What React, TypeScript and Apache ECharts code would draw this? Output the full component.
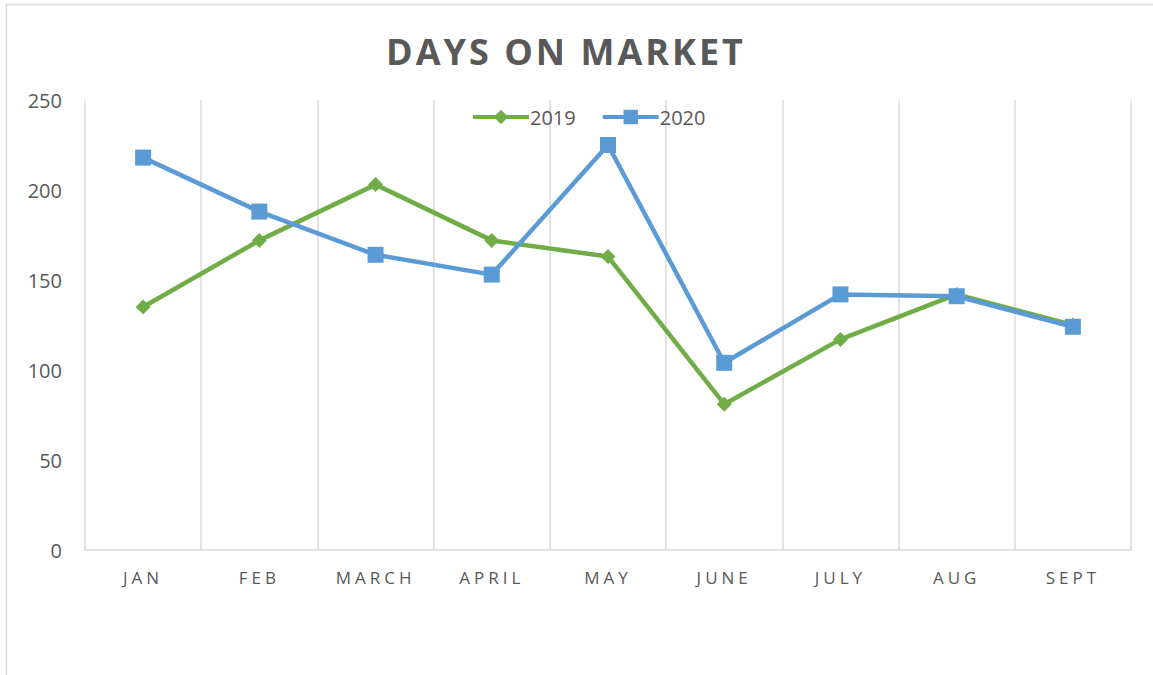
import React, { useEffect, useRef } from "react";
import * as echarts from "echarts";

const categories = ["JAN", "FEB", "MARCH", "APRIL", "MAY", "JUNE", "JULY", "AUG", "SEPT"];
const values2019 = [135, 172, 203, 172, 163, 81, 117, 142, 125];
const values2020 = [218, 188, 164, 153, 225, 104, 142, 141, 124];
const yTicks = { min: 0, max: 250, interval: 50 };
const titleText = "DAYS ON MARKET";

export default function App() {
  const ref = useRef<HTMLDivElement>(null);
  useEffect(() => {
    if (!ref.current) return;
    const chart = echarts.init(ref.current, null, { renderer: "svg" });
    const font = "'Open Sans', sans-serif";
    chart.setOption({
      animation: false,
      backgroundColor: "#ffffff",
      textStyle: { fontFamily: font },
      title: {
        text: titleText,
        left: 561,
        textAlign: "center",
        top: 28,
        textStyle: { fontSize: 36, fontWeight: "bold", color: "#595959", fontFamily: font },
      },
      legend: {
        left: 466,
        top: 102,
        itemWidth: 56,
        itemHeight: 18,
        itemGap: 25,
        lineStyle: { width: 4 },
        textStyle: { fontSize: 20, color: "#595959", fontFamily: font, padding: [0, 0, 0, -4] },
        data: ["2019", "2020"],
      },
      graphic: [
        {
          type: "rect",
          shape: { x: 6.5, y: 4.5, width: 1200, height: 800 },
          style: { fill: "none", stroke: "#d9d9d9", lineWidth: 1.5 },
          silent: true,
        },
      ],
      grid: { left: 85, right: 22, top: 100, bottom: 125 },
      xAxis: {
        type: "category",
        data: categories,
        boundaryGap: true,
        axisLine: { show: true, lineStyle: { color: "#d9d9d9", width: 1.5 } },
        axisTick: { show: false },
        splitLine: { show: true, lineStyle: { color: "#d9d9d9", width: 1.5 } },
        axisLabel: { fontSize: 17, color: "#595959", margin: 19, fontFamily: font },
      },
      yAxis: {
        type: "value",
        min: yTicks.min,
        max: yTicks.max,
        interval: yTicks.interval,
        axisLine: { show: false },
        axisTick: { show: false },
        splitLine: { show: false },
        axisLabel: { fontSize: 20, color: "#595959", margin: 23, fontFamily: font },
      },
      series: [
        {
          name: "2019",
          type: "line",
          data: values2019,
          symbol: "diamond",
          symbolSize: [15, 15],
          showAllSymbol: true,
          lineStyle: { color: "#70AD47", width: 4.5 },
          itemStyle: { color: "#70AD47" },
        },
        {
          name: "2020",
          type: "line",
          data: values2020,
          symbol: "rect",
          symbolSize: 16,
          showAllSymbol: true,
          lineStyle: { color: "#5B9BD5", width: 4.5 },
          itemStyle: { color: "#5B9BD5" },
        },
      ],
    });
    // letter spacing for title and category labels (as in the reference)
    const svg = ref.current.querySelector("svg");
    if (svg) {
      svg.querySelectorAll("text").forEach((t) => {
        const s = t.textContent || "";
        if (categories.includes(s)) t.setAttribute("letter-spacing", "4");
        if (s === titleText) t.setAttribute("letter-spacing", "3");
      });
    }
    return () => chart.dispose();
  }, []);
  return (
    <div
      ref={ref}
      style={{ position: "fixed", left: 0, top: 0, width: 1153, height: 675 }}
    />
  );
}
